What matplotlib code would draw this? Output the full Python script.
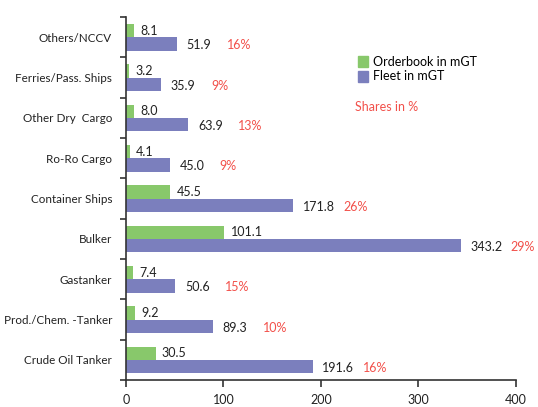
import matplotlib

matplotlib.use("Agg")
import matplotlib.pyplot as plt
from matplotlib.patches import Patch

# top-to-bottom order as in the reference
categories = ["Others/NCCV", "Ferries/Pass. Ships", "Other Dry  Cargo", "Ro-Ro Cargo",
              "Container Ships", "Bulker", "Gastanker", "Prod./Chem. -Tanker",
              "Crude Oil Tanker"]
orderbook = [8.1, 3.2, 8.0, 4.1, 45.5, 101.1, 7.4, 9.2, 30.5]
fleet = [51.9, 35.9, 63.9, 45.0, 171.8, 343.2, 50.6, 89.3, 191.6]
shares = ["16%", "9%", "13%", "9%", "26%", "29%", "15%", "10%", "16%"]
xticks = [0, 100, 200, 300, 400]

GREEN = "#88c86b"
BLUE = "#7b7fbd"
RED = "#f2504a"
DARK = "#222222"
FS = 9

plt.rcParams["font.family"] = ["Lato", "DejaVu Sans"]
plt.rcParams["font.size"] = FS

fig = plt.figure(figsize=(5.38, 4.07), dpi=100)
ax = fig.add_axes([0.234, 0.066, 0.725, 0.892])

pos = list(range(len(categories)))
h = 0.33
ax.barh([p - h / 2 for p in pos], orderbook, height=h, color=GREEN)
ax.barh([p + h / 2 for p in pos], fleet, height=h, color=BLUE)

for p, o, f, s in zip(pos, orderbook, fleet, shares):
    ax.annotate(f"{o:.1f}", (o, p), xytext=(4.5, 0.5), textcoords="offset points",
                ha="left", va="bottom", color=DARK, fontsize=FS)
    ax.annotate(f"{f:.1f}", (f, p + h / 2), xytext=(7, -1), textcoords="offset points",
                ha="left", va="center", color=DARK, fontsize=FS)
    ax.annotate(s, (f, p + h / 2), xytext=(36, -1), textcoords="offset points",
                ha="left", va="center", color=RED, fontsize=FS)

ax.set_xlim(0, 400)
ax.set_ylim(len(categories) - 0.5, -0.5)
ax.set_xticks(xticks)
ax.set_xticklabels([str(t) for t in xticks])
ax.set_yticks([p - 0.5 for p in pos] + [len(categories) - 0.5])
ax.set_yticklabels([])
ax.set_yticks(pos, minor=True)
ax.set_yticklabels(categories, minor=True)
ax.tick_params(axis="y", which="minor", length=0, pad=10, labelsize=8.4, labelcolor=DARK)
ax.tick_params(axis="y", which="major", length=4, width=1.2, color="#333333")
ax.tick_params(axis="x", length=5, width=1.2, color="#333333", pad=5, labelsize=FS,
               labelcolor=DARK)

for side in ("top", "right"):
    ax.spines[side].set_visible(False)
for side in ("left", "bottom"):
    ax.spines[side].set_color("#333333")
    ax.spines[side].set_linewidth(1.2)

handles = [Patch(color=GREEN, label="Orderbook in mGT"),
           Patch(color=BLUE, label="Fleet in mGT")]
fig.legend(handles=handles, loc="upper left", bbox_to_anchor=(0.657, 0.875), frameon=False,
           handlelength=0.8, handleheight=1.0, handletextpad=0.4, labelspacing=0.2,
           borderaxespad=0, fontsize=FS)
fig.text(0.66, 0.737, "Shares in %", color=RED, fontsize=FS, ha="left", va="center")

fig.savefig("out.png", dpi=100)
